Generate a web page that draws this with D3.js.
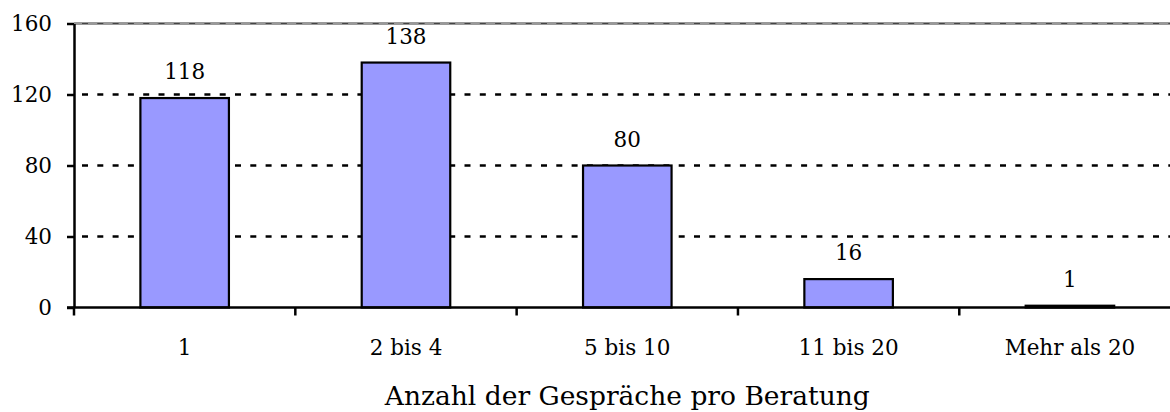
<!DOCTYPE html>
<html>
<head>
<meta charset="utf-8">
<script src="https://cdn.jsdelivr.net/npm/d3@7"></script>
<style>
  body { margin: 0; background: #fff; }
  svg { display: block; font-family: "DejaVu Serif", serif; }
</style>
</head>
<body>
<script>
const categories = ['1', '2 bis 4', '5 bis 10', '11 bis 20', 'Mehr als 20']
const values = [118, 138, 80, 16, 1]
const yTicks = [0, 40, 80, 120, 160]
const xTitle = 'Anzahl der Gespräche pro Beratung'

const w = 1170
const h = 412
const plotLeft = 74
const plotRight = 1180.6   // plot runs past the picture edge
const plotTop = 23.5
const plotBottom = 307.5

const svg = d3.select('body')
    .append('svg')
    .attr('width', w)
    .attr('height', h)

const xScale = d3.scaleBand()
    .domain(categories)
    .range([plotLeft, plotRight])
    .padding(0)

const yScale = d3.scaleLinear()
    .domain([0, 160])
    .range([plotBottom, plotTop])

const bw = xScale.bandwidth()

// top border of the plot area
svg.append('line')
    .attr('x1', plotLeft).attr('x2', plotRight)
    .attr('y1', yScale(160)).attr('y2', yScale(160))
    .attr('stroke', '#999')
    .attr('stroke-width', 3)

// dashed gridlines
svg.selectAll('.grid')
    .data(yTicks.filter(t => t > 0))
    .enter()
    .append('line')
    .attr('class', 'grid')
    .attr('x1', plotLeft + 8).attr('x2', plotRight)
    .attr('y1', d => yScale(d)).attr('y2', d => yScale(d))
    .attr('stroke', d => d == 160 ? '#444' : '#000')
    .attr('stroke-width', d => d == 160 ? 1.2 : 2.5)
    .attr('stroke-dasharray', '6,9.3')

// bars
svg.selectAll('.bar')
    .data(values)
    .enter()
    .append('rect')
    .attr('class', 'bar')
    .attr('x', (d, i) => xScale(categories[i]) + bw * 0.3)
    .attr('y', d => yScale(d))
    .attr('width', bw * 0.4)
    .attr('height', d => plotBottom - yScale(d))
    .attr('fill', '#9999ff')
    .attr('stroke', '#000')
    .attr('stroke-width', 2.2)

// value labels
svg.selectAll('.val')
    .data(values)
    .enter()
    .append('text')
    .attr('class', 'val')
    .attr('x', (d, i) => xScale(categories[i]) + bw / 2)
    .attr('y', d => yScale(d) - 19)
    .attr('text-anchor', 'middle')
    .attr('font-size', 21.5)
    .attr('fill', '#000')
    .text(d => d)

// y axis
const yAxis = d3.axisLeft(yScale)
    .tickValues(yTicks)
    .tickSize(7)
    .tickSizeOuter(0)
    .tickPadding(15)

const gy = svg.append('g')
    .attr('transform', 'translate(' + plotLeft + ',0)')
    .call(yAxis)
gy.select('.domain').attr('stroke', '#000').attr('stroke-width', 2.5)
gy.selectAll('.tick line').attr('stroke', '#000').attr('stroke-width', 2.5)
gy.selectAll('text')
    .attr('font-size', 21.5)
    .attr('font-family', 'DejaVu Serif')
    .attr('fill', '#000')

// x axis line
svg.append('line')
    .attr('x1', plotLeft - 7).attr('x2', plotRight)
    .attr('y1', plotBottom).attr('y2', plotBottom)
    .attr('stroke', '#000')
    .attr('stroke-width', 2.5)

// x ticks on band boundaries
const bounds = [plotLeft].concat(categories.map(c => xScale(c) + bw))
svg.selectAll('.xtick')
    .data(bounds)
    .enter()
    .append('line')
    .attr('class', 'xtick')
    .attr('x1', d => d).attr('x2', d => d)
    .attr('y1', plotBottom).attr('y2', plotBottom + 8)
    .attr('stroke', '#000')
    .attr('stroke-width', 2.5)

// category labels
svg.selectAll('.cat')
    .data(categories)
    .enter()
    .append('text')
    .attr('class', 'cat')
    .attr('x', d => xScale(d) + bw / 2)
    .attr('y', 355)
    .attr('text-anchor', 'middle')
    .attr('font-size', 21.5)
    .attr('fill', '#000')
    .text(d => d)

// axis title
svg.append('text')
    .attr('x', (plotLeft + plotRight) / 2)
    .attr('y', 405)
    .attr('text-anchor', 'middle')
    .attr('font-size', 26.5)
    .attr('fill', '#000')
    .text(xTitle)
</script>
</body>
</html>
